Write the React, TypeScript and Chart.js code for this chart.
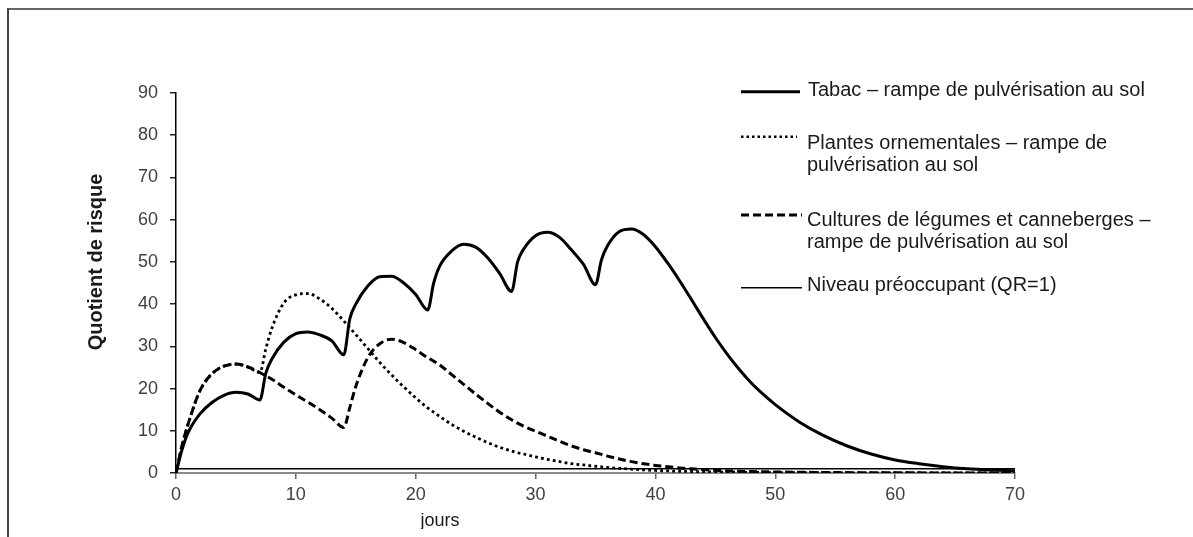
import React, { useEffect, useRef } from "react";
import { Chart, registerables } from "chart.js";

Chart.register(...registerables);

// ---- Data ----
const days = [
  0, 0.5, 1, 2, 3, 4, 5, 6, 7,
  7.5, 8, 9, 10, 11, 12, 13, 14,
  14.5, 15, 16, 17, 18, 19, 20, 21,
  21.5, 22, 23, 24, 25, 26, 27, 28,
  28.5, 29, 30, 31, 32, 33, 34, 35,
  35.5, 36, 37, 38, 39, 40, 41, 42, 43, 44, 45, 46, 47, 48, 49,
  50, 52, 54, 56, 58, 60, 62, 64, 66, 68, 70,
];

const tabac = [
  0, 5.5, 9.5, 14, 16.7, 18.4, 19.1, 18.7, 17.3,
  23.7, 27, 31, 33, 33.4, 32.7, 31.3, 28,
  36.5, 40, 44.3, 46.5, 46.6, 45, 42.3, 38.6,
  45, 49, 52.6, 54.2, 53.5, 51, 47.3, 43,
  50, 53, 56.2, 57, 55.8, 52.8, 49.4, 44.6,
  50.5, 53.8, 57.2, 57.8, 56.5, 53.6, 49.8, 45.6, 41.1, 36.5, 32.1, 28.1, 24.5, 21.3, 18.6,
  16.2, 12.1, 8.9, 6.4, 4.5, 3.1, 2.2, 1.5, 1.0, 0.7, 0.5,
];

const ornementales = [
  0, 6.5, 11.5, 19.5, 23.5, 25.3, 25.8, 25.1, 23.8,
  29.5, 34.3, 40.3, 42.2, 42.5, 41.2, 39, 36,
  34.4, 32.8, 29.5, 26.2, 23.2, 20.4, 17.8, 15.4,
  14.4, 13.4, 11.5, 9.9, 8.5, 7.2, 6.1, 5.2,
  4.8, 4.5, 3.8, 3.2, 2.7, 2.2, 1.9, 1.6,
  1.45, 1.3, 1.1, 0.9, 0.75, 0.6, 0.5, 0.42, 0.36, 0.3, 0.25, 0.2, 0.17, 0.15, 0.12,
  0.1, 0.08, 0.06, 0.04, 0.03, 0.02, 0.02, 0.01, 0.01, 0.01, 0.01,
];

const legumes = [
  0, 6.5, 11.5, 19.5, 23.5, 25.3, 25.8, 25.1, 23.8,
  23, 22.2, 20.3, 18.5, 16.8, 15, 13, 10.8,
  15.5, 20.5, 27.3, 30.6, 31.7, 30.9, 29.2, 27.3,
  26.5, 25.6, 23.3, 21, 18.7, 16.5, 14.4, 12.6,
  11.8, 11.1, 9.9, 8.7, 7.5, 6.4, 5.5, 4.8,
  4.4, 4.0, 3.3, 2.7, 2.2, 1.8, 1.5, 1.2, 1.0, 0.8, 0.65, 0.5, 0.42, 0.35, 0.3,
  0.25, 0.18, 0.12, 0.09, 0.06, 0.04, 0.03, 0.02, 0.01, 0.01, 0.01,
];

const qrDays = [0, 70];
const qrLevel = [1, 1];

const xTicks = [0, 10, 20, 30, 40, 50, 60, 70];
const yTicks = [0, 10, 20, 30, 40, 50, 60, 70, 80, 90];

const seriesLabels = [
  "Tabac – rampe de pulvérisation au sol",
  "Plantes ornementales – rampe de pulvérisation au sol",
  "Cultures de légumes et canneberges – rampe de pulvérisation au sol",
  "Niveau préoccupant (QR=1)",
];

const xTitle = "jours";
const yTitle = "Quotient de risque";

const FONT = '"Liberation Sans", Arial, Helvetica, sans-serif';

const toPoints = (xs: number[], ys: number[]) => xs.map((x, i) => ({ x, y: ys[i] }));

export default function App() {
  const canvasRef = useRef<HTMLCanvasElement>(null);

  useEffect(() => {
    const canvas = canvasRef.current;
    if (!canvas) return;
    Chart.defaults.font.family = FONT;
    const chart = new Chart(canvas, {
      type: "line",
      data: {
        datasets: [
          {
            label: seriesLabels[0],
            data: toPoints(days, tabac),
            borderColor: "#000",
            borderWidth: 3,
            pointRadius: 0,
            cubicInterpolationMode: "monotone",
            fill: false,
            order: 0,
          },
          {
            label: seriesLabels[2],
            data: toPoints(days, legumes),
            borderColor: "#000",
            borderWidth: 3,
            borderDash: [8, 4],
            pointRadius: 0,
            cubicInterpolationMode: "monotone",
            fill: false,
            order: 1,
          },
          {
            label: seriesLabels[1],
            data: toPoints(days, ornementales),
            borderColor: "#000",
            borderWidth: 2.8,
            borderDash: [2.8, 3.2],
            pointRadius: 0,
            cubicInterpolationMode: "monotone",
            fill: false,
            order: 2,
          },
          {
            label: seriesLabels[3],
            data: toPoints(qrDays, qrLevel),
            borderColor: "#000",
            borderWidth: 1.5,
            pointRadius: 0,
            fill: false,
            order: 3,
          },
        ],
      },
      options: {
        animation: false,
        responsive: false,
        maintainAspectRatio: false,
        layout: { padding: { top: 83, right: 170, left: 0, bottom: 0 } },
        plugins: {
          legend: { display: false },
          tooltip: { enabled: false },
          title: { display: false },
        },
        scales: {
          x: {
            type: "linear",
            min: 0,
            max: 70,
            afterFit: (s: any) => {
              s.height = 56;
            },
            afterBuildTicks: (s: any) => {
              s.ticks = xTicks.map((v) => ({ value: v }));
            },
            ticks: {
              padding: 5,
              color: "#404040",
              font: { size: 18, family: FONT },
              maxRotation: 0,
            },
            grid: {
              drawOnChartArea: false,
              drawTicks: true,
              tickLength: 6,
              color: "#666",
              lineWidth: 1.5,
            },
            border: { display: true, color: "#8a8a8a", width: 2 },
          },
          y: {
            type: "linear",
            min: 0,
            max: 90,
            afterFit: (s: any) => {
              s.width = 166;
            },
            afterBuildTicks: (s: any) => {
              s.ticks = yTicks.map((v) => ({ value: v }));
            },
            ticks: {
              padding: 12,
              color: "#404040",
              font: { size: 18, family: FONT },
            },
            grid: {
              drawOnChartArea: false,
              drawTicks: true,
              tickLength: 6,
              color: "#222",
              lineWidth: 1.5,
            },
            border: { display: true, color: "#000", width: 1.5 },
          },
        },
      },
    } as any);
    return () => chart.destroy();
  }, []);

  const legendText: React.CSSProperties = {
    position: "absolute",
    fontFamily: FONT,
    fontSize: 20,
    lineHeight: "22px",
    color: "#1a1a1a",
    whiteSpace: "nowrap",
  };

  return (
    <div style={{ paddingTop: 2, paddingLeft: 2, width: 1175, height: 519 }}>
      {/* frame lines of the picture (top and left only, running to the window edge) */}
      <div style={{ position: "fixed", left: 8, top: 8, right: 0, height: 2, background: "#666" }} />
      <div style={{ position: "fixed", left: 7, top: 8, bottom: 0, width: 2, background: "#444" }} />
      <div
        style={{
          position: "relative",
          width: 1175,
          height: 519,
          overflow: "hidden",
          background: "#fff",
        }}
      >
        <canvas
          ref={canvasRef}
          width={1175}
          height={519}
          style={{ position: "absolute", left: 0, top: 0, width: 1175, height: 519 }}
        />
        <div
          style={{
            position: "absolute",
            left: -65,
            top: 240,
            width: 300,
            height: 24,
            lineHeight: "24px",
            textAlign: "center",
            transform: "rotate(-90deg)",
            fontFamily: FONT,
            fontWeight: "bold",
            fontSize: 20,
            color: "#1a1a1a",
            whiteSpace: "nowrap",
          }}
        >
          {yTitle}
        </div>
        <div
          style={{
            position: "absolute",
            left: 380,
            top: 500,
            width: 100,
            textAlign: "center",
            fontFamily: FONT,
            fontSize: 18,
            lineHeight: "20px",
            color: "#1a1a1a",
          }}
        >
          {xTitle}
        </div>
        <svg
          width={1175}
          height={519}
          style={{ position: "absolute", left: 0, top: 0, pointerEvents: "none" }}
        >
          <line x1={731} y1={81.7} x2={790} y2={81.7} stroke="#000" strokeWidth={3} />
          <line x1={731} y1={126.7} x2={787} y2={126.7} stroke="#000" strokeWidth={2.5} strokeDasharray="2.5 3" />
          <line x1={731} y1={205} x2={792} y2={205} stroke="#000" strokeWidth={3} strokeDasharray="8 4" />
          <line x1={731} y1={277.7} x2={792} y2={277.7} stroke="#000" strokeWidth={1.5} />
        </svg>
        <div style={{ ...legendText, left: 798, top: 68 }}>{seriesLabels[0]}</div>
        <div style={{ ...legendText, left: 797, top: 121.4 }}>
          Plantes ornementales – rampe de
          <br />
          pulvérisation au sol
        </div>
        <div style={{ ...legendText, left: 797, top: 198 }}>
          Cultures de légumes et canneberges –
          <br />
          rampe de pulvérisation au sol
        </div>
        <div style={{ ...legendText, left: 797, top: 263 }}>{seriesLabels[3]}</div>
      </div>
    </div>
  );
}
